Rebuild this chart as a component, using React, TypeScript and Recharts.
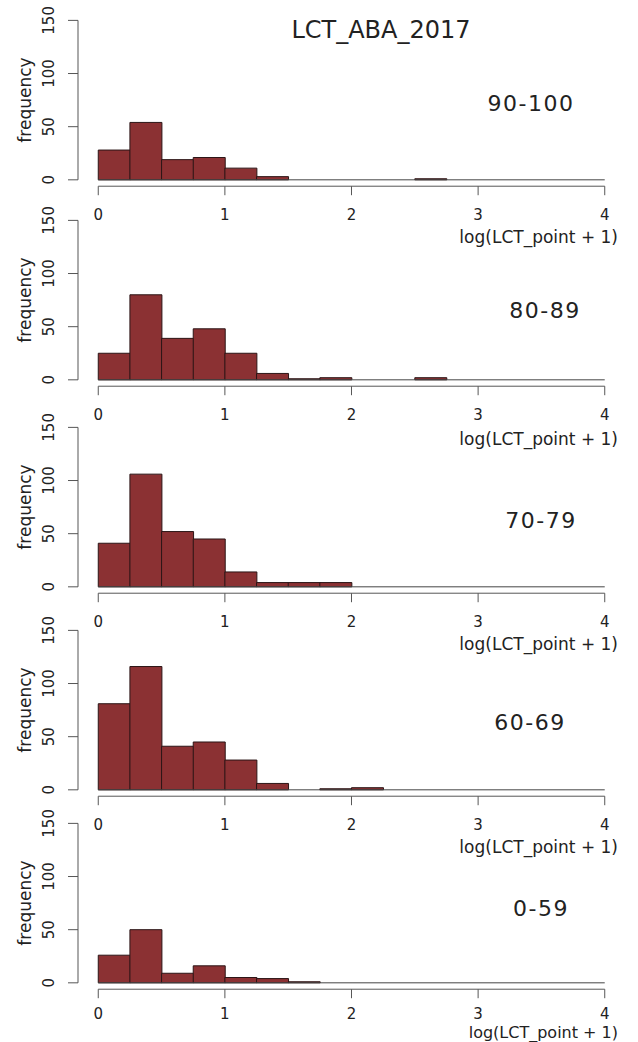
import React from 'react'
import { BarChart, Bar, XAxis, YAxis, ReferenceLine } from 'recharts'

// histogram bins of log(LCT_point + 1), width 0.25, labelled by midpoint
const binMids = [
  0.125, 0.375, 0.625, 0.875, 1.125, 1.375, 1.625, 1.875,
  2.125, 2.375, 2.625, 2.875, 3.125, 3.375, 3.625, 3.875,
]
const xTicks = [0, 1, 2, 3, 4]
const yTicks = [0, 50, 100, 150]

const groupNames = ['90-100', '80-89', '70-79', '60-69', '0-59']
const freq90to100 = [28, 54, 19, 21, 11, 3, 0, 0, 0, 0, 1, 0, 0, 0, 0, 0]
const freq80to89 = [25, 80, 39, 48, 25, 6, 1, 2, 0, 0, 2, 0, 0, 0, 0, 0]
const freq70to79 = [41, 106, 52, 45, 14, 4, 4, 4, 0, 0, 0, 0, 0, 0, 0, 0]
const freq60to69 = [81, 116, 41, 45, 28, 6, 0, 1, 2, 0, 0, 0, 0, 0, 0, 0]
const freq0to59 = [26, 50, 9, 16, 5, 4, 1, 0, 0, 0, 0, 0, 0, 0, 0, 0]
const allFreqs = [freq90to100, freq80to89, freq70to79, freq60to69, freq0to59]

const FONT = '"DejaVu Sans", "Liberation Sans", Arial, sans-serif'
const BAR_FILL = '#8b3133'
const AXIS = '#555'

// pixel row of the zero line in each panel, group label spot, x title offset
const zeroRows = [180, 380, 587, 790, 983]
const labelPos = [
  { x: 531, y: 103 },
  { x: 545, y: 310 },
  { x: 541, y: 520 },
  { x: 530, y: 722 },
  { x: 541, y: 908 },
]
const titleOffsets = [57, 59, 57, 57, 50]
const tickGaps = [14, 14, 14, 14, 10]
const titleSizes = [17, 17, 17, 17, 16]
const PX_PER_UNIT = 1.063
const PLOT_H = 162 * PX_PER_UNIT
const AXIS_H = 60
const TOP_PAD = 20

const YTick = (props: any) => {
  const { x, y, payload } = props
  return (
    <text
      x={x}
      y={y}
      transform={`rotate(-90 ${x} ${y})`}
      textAnchor="middle"
      fontSize={15}
      fill="#222"
      fontFamily={FONT}
    >
      {payload.value}
    </text>
  )
}

function Panel({ freqs, top, tickGap }: { freqs: number[]; top: number; tickGap: number }) {
  const data = binMids.map((mid, i) => ({ mid, count: freqs[i] }))
  return (
    <div style={{ position: 'absolute', left: 0, top: top - TOP_PAD }}>
      <BarChart
        width={638}
        height={PLOT_H + AXIS_H + TOP_PAD}
        data={data}
        margin={{ top: TOP_PAD, right: 13, bottom: 0, left: 0 }}
        barCategoryGap={0}
        barGap={0}
        style={{ fontFamily: FONT }}
      >
        <XAxis
          dataKey="mid"
          type="number"
          domain={[-0.16, 4.16]}
          ticks={xTicks}
          axisLine={false}
          tickLine={{ stroke: AXIS }}
          tickSize={9}
          tickMargin={tickGap}
          height={AXIS_H}
          tick={{ fontSize: 15, fill: '#222', fontFamily: FONT }}
        />
        <YAxis
          type="number"
          domain={[-6, 156]}
          ticks={yTicks}
          axisLine={false}
          tickLine={{ stroke: AXIS }}
          tickSize={10}
          tickMargin={14}
          width={78}
          tick={<YTick />}
        />
        <ReferenceLine
          segment={[{ x: 0, y: 0 }, { x: 4, y: 0 }]}
          stroke="#444"
          ifOverflow="visible"
        />
        <Bar
          dataKey="count"
          fill={BAR_FILL}
          stroke="#2b1516"
          strokeWidth={1}
          isAnimationActive={false}
        />
        <ReferenceLine
          segment={[{ x: 0, y: -6 }, { x: 4, y: -6 }]}
          stroke={AXIS}
          ifOverflow="visible"
        />
        <ReferenceLine
          segment={[{ x: -0.16, y: 0 }, { x: -0.16, y: 150 }]}
          stroke={AXIS}
          ifOverflow="visible"
        />
      </BarChart>
    </div>
  )
}

export default function App() {
  return (
    <div
      style={{
        position: 'absolute',
        left: 0,
        top: 0,
        width: 638,
        height: 1042,
        background: '#fff',
        fontFamily: FONT,
        color: '#222',
        overflow: 'hidden',
      }}
    >
      {allFreqs.map((freqs, i) => (
        <Panel
          key={groupNames[i]}
          freqs={freqs}
          top={zeroRows[i] - 156 * PX_PER_UNIT}
          tickGap={tickGaps[i]}
        />
      ))}
      <div
        style={{
          position: 'absolute',
          left: 381,
          top: 30,
          transform: 'translate(-50%, -50%)',
          fontSize: 24,
          whiteSpace: 'nowrap',
        }}
      >
        LCT_ABA_2017
      </div>
      {groupNames.map((name, i) => (
        <div
          key={name}
          style={{
            position: 'absolute',
            left: labelPos[i].x,
            top: labelPos[i].y,
            transform: 'translate(-50%, -50%)',
            fontSize: 22,
            letterSpacing: 1.5,
            whiteSpace: 'nowrap',
          }}
        >
          {name}
        </div>
      ))}
      {zeroRows.map((z, i) => (
        <React.Fragment key={i}>
          <div
            style={{
              position: 'absolute',
              left: 25,
              top: z - 75 * PX_PER_UNIT,
              transform: 'translate(-50%, -50%) rotate(-90deg)',
              fontSize: 17,
              whiteSpace: 'nowrap',
            }}
          >
            frequency
          </div>
          <div
            style={{
              position: 'absolute',
              left: 618,
              top: z + titleOffsets[i],
              transform: 'translate(-100%, -50%)',
              fontSize: titleSizes[i],
              lineHeight: 1.1,
              whiteSpace: 'nowrap',
            }}
          >
            log(LCT_point + 1)
          </div>
        </React.Fragment>
      ))}
    </div>
  )
}
